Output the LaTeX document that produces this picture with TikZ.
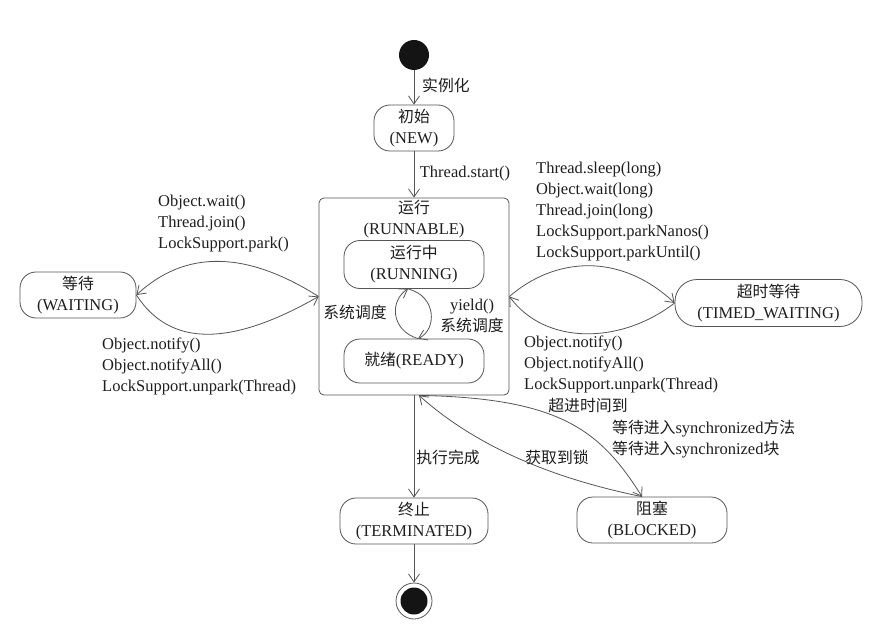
\documentclass[tikz,border=0pt]{standalone}
\usepackage{fontspec}
\setmainfont{Liberation Serif}
\newfontfamily\cjk{Noto Sans CJK SC}[Scale=0.96]
\newcommand\zh[1]{{\cjk #1}}
\usetikzlibrary{arrows.meta}
\definecolor{linec}{RGB}{85,85,85}
\definecolor{textc}{RGB}{30,30,30}
\definecolor{dotc}{RGB}{20,20,20}
\begin{document}
\begin{tikzpicture}[x=1pt,y=-1pt,
  font=\fontsize{16.5}{21}\selectfont,
  state/.style={draw=linec, line width=0.8pt, rounded corners=16pt, align=center, inner sep=0pt, text=textc},
  arr/.style={draw=linec, line width=0.8pt, -{Straight Barb[length=8pt,width=11pt]}},
  lbl/.style={inner sep=0pt, align=center, text=textc},
  lbll/.style={inner sep=0pt, align=left, anchor=west, text=textc}]
\fill[white] (0,0) rectangle (869,628);
\useasboundingbox (0,0) rectangle (869,628);

% states
\node[circle, fill=dotc, minimum size=30pt, inner sep=0pt] (start) at (414,55) {};
\node[state, minimum width=80pt, minimum height=46pt] (new) at (414,128) {\zh{初始}\\(NEW)};
\node[draw=linec, line width=0.8pt, rounded corners=5pt, minimum width=190pt, minimum height=197pt, inner sep=0pt] (runnable) at (414,296.5) {};
\node[lbl] (runnabletitle) at (414,219) {\zh{运行}\\(RUNNABLE)};
\node[state, minimum width=140pt, minimum height=48pt] (running) at (414,264.5) {\zh{运行中}\\(RUNNING)};
\node[state, minimum width=140pt, minimum height=44pt] (ready) at (414,361) {\zh{就绪}(READY)};
\node[state, minimum width=116pt, minimum height=46pt] (waiting) at (78,295) {\zh{等待}\\(WAITING)};
\node[state, minimum width=187pt, minimum height=47pt, rounded corners=22pt] (timed) at (768.5,303) {\zh{超时等待}\\(TIMED\_WAITING)};
\node[state, minimum width=148pt, minimum height=46pt] (terminated) at (414,521) {\zh{终止}\\(TERMINATED)};
\node[state, minimum width=150pt, minimum height=46pt] (blocked) at (652,520) {\zh{阻塞}\\(BLOCKED)};
\node[circle, draw=linec, line width=0.8pt, minimum size=36pt, inner sep=0pt] (end) at (414,601) {};
\node[circle, fill=dotc, minimum size=27pt, inner sep=0pt] (endin) at (414,601) {};

% connectors
\draw[arr] (start) -- (new);
\draw[arr] (new) -- (runnable.north);
\draw[arr] ([xshift=4pt]ready.north) .. controls (390,330) and (390,300) .. ([xshift=-6pt]running.south);
\draw[arr] ([xshift=-6pt]running.south) .. controls (437,296) and (437,330) .. ([xshift=4pt]ready.north);
\draw[arr] (runnable.west) .. controls (245,250) and (185,250) .. (waiting.east);
\draw[arr] (waiting.east) .. controls (170,347) and (230,347) .. (runnable.west);
\draw[arr] (runnable.east) .. controls (555,257) and (620,252) .. (timed.west);
\draw[arr] (timed.west) .. controls (620,345) and (545,345) .. (runnable.east);
\draw[arr] (runnable.south) -- (terminated.north);
\draw[arr] ([xshift=5pt]runnable.south) .. controls (560,398) and (600,430) .. ([xshift=-10pt]blocked.north);
\draw[arr] ([xshift=-10pt]blocked.north) .. controls (560,480) and (480,450) .. ([xshift=5pt]runnable.south);
\draw[arr] (terminated) -- (end);

% labels
\node[lbl] (l1) at (446,85) {\zh{实例化}};
\node[lbl] (l2) at (465,174) {Thread.start()};
\node[lbl] (l3) at (355,312) {\zh{系统调度}};
\node[lbl] (l4) at (472,316) {yield()\\\zh{系统调度}};
\node[lbll] (l5) at (158,224) {Object.wait()\\Thread.join()\\LockSupport.park()};
\node[lbll] (l6) at (102,366) {Object.notify()\\Object.notifyAll()\\LockSupport.unpark(Thread)};
\node[lbll] (l7) at (536,212) {Thread.sleep(long)\\Object.wait(long)\\Thread.join(long)\\LockSupport.parkNanos()\\LockSupport.parkUntil()};
\node[lbll] (l8) at (524,364) {Object.notify()\\Object.notifyAll()\\LockSupport.unpark(Thread)};
\node[lbl] (l9) at (588,405) {\zh{超进时间到}};
\node[lbll] (l10) at (612,439) {\zh{等待进入}synchronized\zh{方法}\\\zh{等待进入}synchronized\zh{块}};
\node[lbl] (l11) at (557,457) {\zh{获取到锁}};
\node[lbl] (l12) at (448,457) {\zh{执行完成}};
\end{tikzpicture}
\end{document}
